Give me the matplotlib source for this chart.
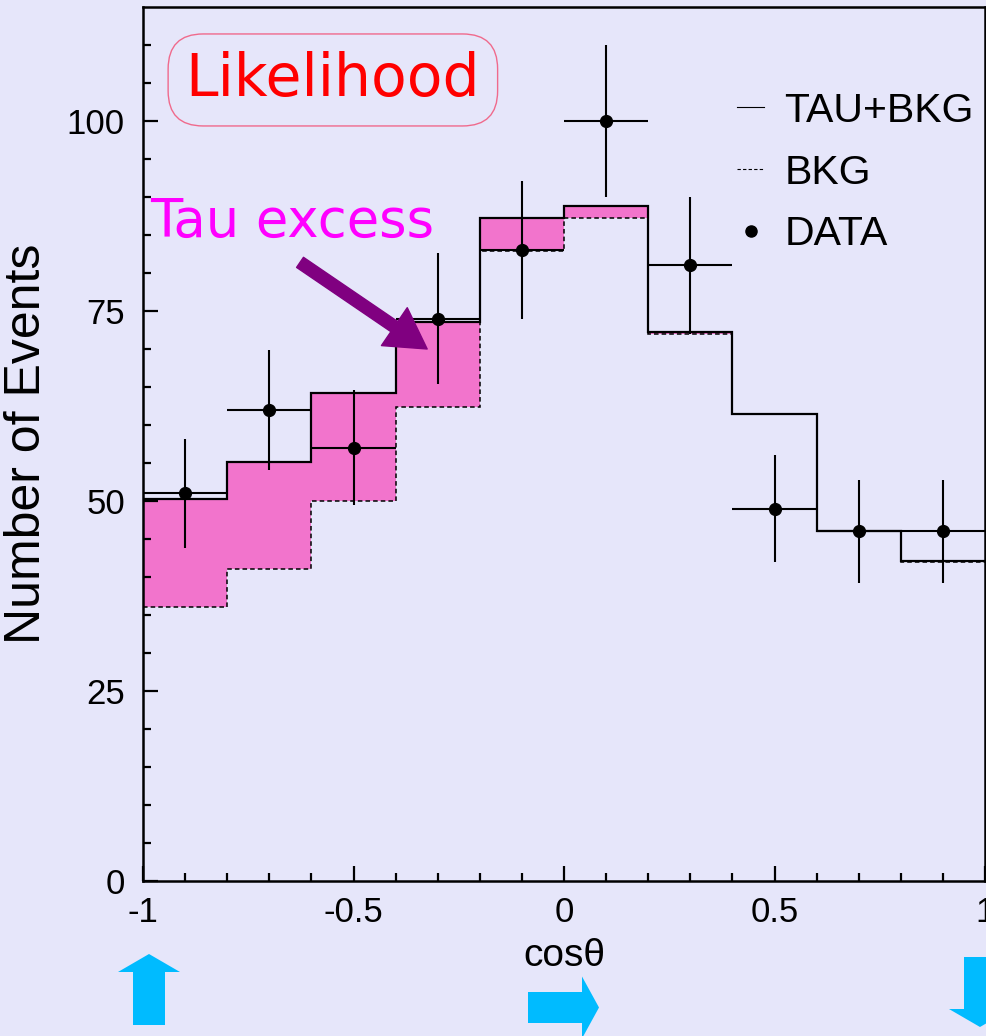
import numpy as np
import matplotlib
matplotlib.use('Agg')
import matplotlib.pyplot as plt
from matplotlib.lines import Line2D
from matplotlib.patches import FancyArrow

plt.rcParams['font.family'] = ['Liberation Sans', 'DejaVu Sans']

# cos(theta) binning, 10 bins from -1 to 1
edges = np.linspace(-1, 1, 11)
centers = 0.5 * (edges[:-1] + edges[1:])

# observed events per bin
data = [51, 62, 57, 74, 83, 100, 81, 49, 46, 46]
# expectation: tau signal + background, and background only
tau_bkg = [50.2, 55.1, 64.2, 73.6, 87.3, 88.8, 72.3, 61.5, 46.1, 42.1]
bkg = [36.1, 41.0, 50.0, 62.4, 82.9, 87.3, 72.0, 61.4, 46.0, 42.0]

bg = '#e6e6fa'
pink = '#f274cc'
blue = '#00bbff'

fig = plt.figure(figsize=(9.86, 10.36), dpi=100, facecolor=bg)
ax = fig.add_axes([143 / 986, 155 / 1036, 842 / 986, 874 / 1036])
ax.set_facecolor(bg)

# tau excess band between background and total
ax.stairs(tau_bkg, edges, baseline=bkg, fill=True, color=pink, lw=0)
ax.stairs(bkg, edges, baseline=None, color='black', lw=1.1, ls=(0, (3, 2)))
ax.stairs(tau_bkg, edges, baseline=None, color='black', lw=1.6)

err = np.sqrt(data)
ax.errorbar(centers, data, yerr=err, xerr=0.1, fmt='o', color='black',
            ms=8.5, elinewidth=1.5, capsize=0)

ax.set_xlim(-1, 1)
ax.set_ylim(0, 115)
ax.set_xticks([-1, -0.5, 0, 0.5, 1])
ax.set_xticklabels(['-1', '-0.5', '0', '0.5', '1'])
ax.set_xticks(np.arange(-1, 1.01, 0.1), minor=True)
ax.set_yticks([0, 25, 50, 75, 100])
ax.set_yticks(np.arange(0, 115, 5), minor=True)
ax.tick_params(which='both', direction='in', width=1.6, labelsize=25)
ax.tick_params(which='major', length=11)
ax.tick_params(which='minor', length=6)
ax.tick_params(axis='x', pad=11)
ax.tick_params(axis='y', pad=13)
for s in ax.spines.values():
    s.set_linewidth(1.8)

ax.set_xlabel('cosθ', fontsize=28, labelpad=6)
ax.set_ylabel('Number of Events', fontsize=36, labelpad=12)

handles = [Line2D([], [], color='black', lw=0.8),
           Line2D([], [], color='black', lw=0.8, ls=(0, (3, 2))),
           Line2D([], [], color='black', marker='o', ms=8, ls='none')]
ax.legend(handles, ['TAU+BKG', 'BKG', 'DATA'], loc='upper left',
          bbox_to_anchor=(0.706, 0.903), frameon=False, fontsize=29.5,
          handlelength=0.65, handletextpad=0.5, labelspacing=0.58,
          borderpad=0, borderaxespad=0)

ax.text(-0.549, 105.4, 'Likelihood', color='red', fontsize=42,
        family='DejaVu Sans', ha='center', va='center',
        bbox=dict(boxstyle='round,pad=0.3,rounding_size=0.6',
                  fc=bg, ec='#f06a8c', lw=1))
ax.text(-0.983, 84.7, 'Tau excess', color='magenta', fontsize=38,
        family='DejaVu Sans', ha='left', va='baseline')
ax.annotate('', xy=(-0.325, 70.0), xytext=(-0.627, 81.4),
            arrowprops=dict(arrowstyle='simple,head_width=1.5,head_length=1.3,tail_width=0.4',
                            color='purple', mutation_scale=22, shrinkA=0, shrinkB=0))

# blue direction arrows below the axis (figure inches)
tr = fig.dpi_scale_trans
fig.add_artist(FancyArrow(1.49, 0.11, 0, 0.71, width=0.32, head_width=0.62,
                          head_length=0.18, length_includes_head=True,
                          color=blue, lw=0, transform=tr))
fig.add_artist(FancyArrow(5.28, 0.285, 0.71, 0, width=0.31, head_width=0.62,
                          head_length=0.17, length_includes_head=True,
                          color=blue, lw=0, transform=tr))
fig.add_artist(FancyArrow(9.80, 0.79, 0, -0.70, width=0.32, head_width=0.62,
                          head_length=0.18, length_includes_head=True,
                          color=blue, lw=0, transform=tr))

fig.savefig('out.png', dpi=100, facecolor=bg)
